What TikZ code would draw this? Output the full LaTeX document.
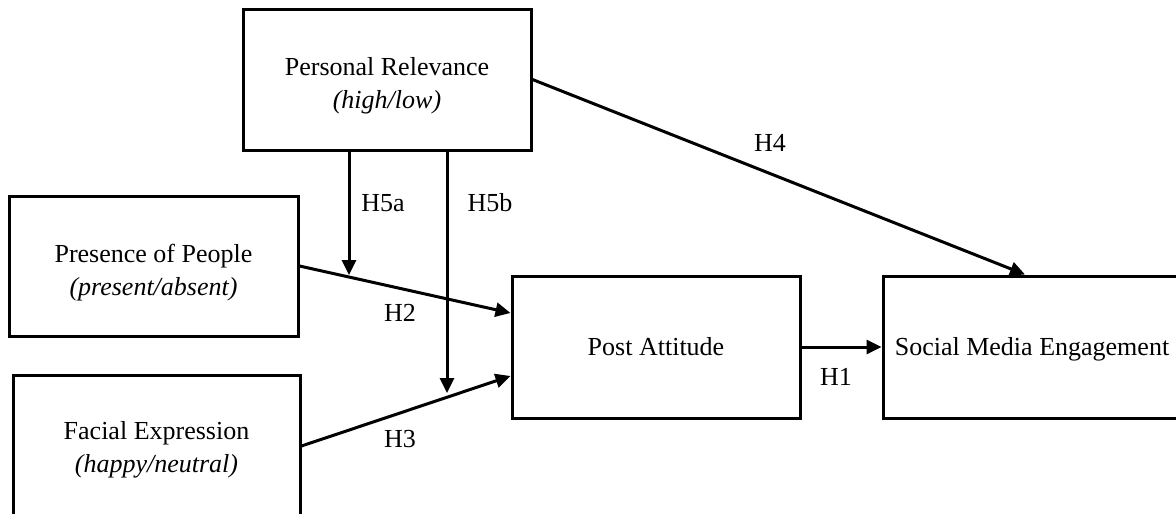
\documentclass[tikz,border=0pt]{standalone}
\usepackage{fontspec}
\setmainfont{Liberation Serif}
\usetikzlibrary{arrows.meta}
\newcommand{\twolines}[3]{\raisebox{#3}[\height][\depth]{\begin{tabular}{@{}c@{}}#1\\#2\end{tabular}}}
\begin{document}
\begin{tikzpicture}[x=1pt,y=-1pt,
  box/.style={draw=black, line width=3pt, inner sep=0pt, align=center,
    font=\fontsize{26}{33}\selectfont},
  conn/.style={line width=3pt, -{Triangle[length=15pt,width=14pt]}},
  lbl/.style={font=\fontsize{26}{33}\selectfont, inner sep=0pt}]
\useasboundingbox (0,0) rectangle (1176,514);
\clip (0,0) rectangle (1176,514);
\node[box, minimum width=288pt, minimum height=141pt] (pr) at (387,79.5)
  {\twolines{Personal Relevance}{\textit{(high/low)}}{-6pt}};
\node[box, minimum width=289pt, minimum height=140pt] (pop) at (153.5,266)
  {\twolines{Presence of People}{\textit{(present/absent)}}{-6pt}};
\node[box, minimum width=287pt, minimum height=142pt] (fe) at (156.5,446)
  {\twolines{Facial Expression}{\textit{(happy/neutral)}}{-3pt}};
\node[box, minimum width=288pt, minimum height=142pt] (pa) at (656,347)
  {Post Attitude};
\node[box, minimum width=298pt, minimum height=142pt] (sme) at (1032,347)
  {\raisebox{-2pt}[\height][\depth]{Social Media Engagement}};
\coordinate (h5aend) at (349,275);
\coordinate (h5bend) at (447,393);
\draw[conn] (pop.east) -- ([yshift=34pt]pa.west);
\draw[conn] (fe.east) -- ([yshift=-29pt]pa.west);
\draw[conn] (pa.east) -- (sme.west);
\draw[conn] (pr.east) -- ([xshift=-7pt]sme.north);
\draw[conn] ([xshift=-38pt]pr.south) -- (h5aend);
\draw[conn] ([xshift=60pt]pr.south) -- (h5bend);
\node[lbl] (lh5a) at (383,203) {H5a};
\node[lbl] (lh5b) at (490,203) {H5b};
\node[lbl] (lh2) at (400,313) {H2};
\node[lbl] (lh3) at (400,439) {H3};
\node[lbl] (lh1) at (836,377) {H1};
\node[lbl] (lh4) at (770,143) {H4};
\end{tikzpicture}
\end{document}
